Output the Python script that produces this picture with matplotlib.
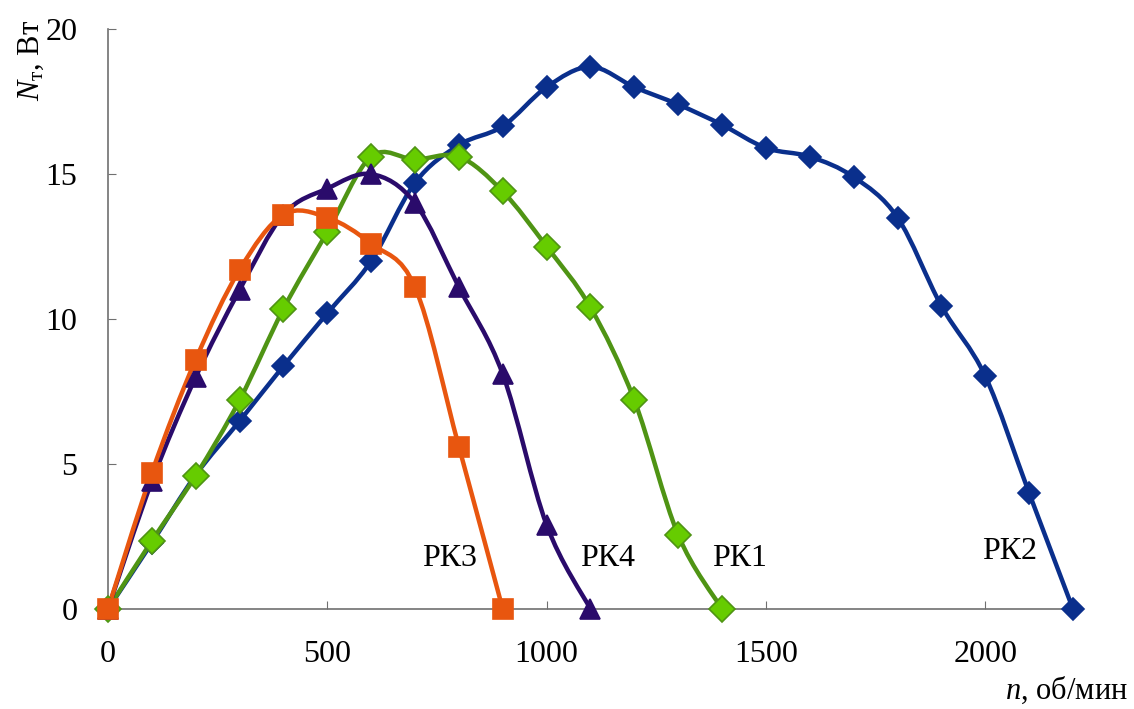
import numpy as np
import matplotlib
matplotlib.use("Agg")
import matplotlib.pyplot as plt
from matplotlib.path import Path
from matplotlib.patches import PathPatch

plt.rcParams['font.family'] = ['Liberation Serif', 'DejaVu Serif']
plt.rcParams['mathtext.fontset'] = 'custom'
plt.rcParams['mathtext.rm'] = 'Liberation Serif'
plt.rcParams['mathtext.it'] = 'Liberation Serif:italic'

# data: speed n (rpm) and power N (W)
n_rk2 = list(range(0, 2201, 100))
p_rk2 = [0, 2.28, 4.62, 6.48, 8.38, 10.2, 12.0, 14.7, 16.0, 16.65, 18.0, 18.7,
         18.0, 17.4, 16.7, 15.9, 15.6, 14.9, 13.5, 10.45, 8.03, 4.0, 0]

n_rk1 = list(range(0, 1401, 100))
p_rk1 = [0, 2.35, 4.6, 7.2, 10.35, 13.0, 15.6, 15.5, 15.6, 14.4, 12.5, 10.4,
         7.2, 2.55, 0]

n_rk4 = list(range(0, 1101, 100))
p_rk4 = [0, 4.4, 8.0, 11.0, 13.6, 14.5, 15.0, 14.0, 11.1, 8.1, 2.9, 0]

n_rk3 = list(range(0, 901, 100))
p_rk3 = [0, 4.7, 8.6, 11.7, 13.6, 13.5, 12.6, 11.1, 5.6, 0]


def smooth_path(xs, ys):
    # Excel-style smoothed line: cubic Bezier through every point
    pts = np.column_stack([xs, ys]).astype(float)
    verts = [pts[0]]
    codes = [Path.MOVETO]
    m = len(pts)
    for i in range(m - 1):
        p0 = pts[max(i - 1, 0)]
        p1 = pts[i]
        p2 = pts[i + 1]
        p3 = pts[min(i + 2, m - 1)]
        c1 = p1 + (p2 - p0) / 6.0
        c2 = p2 - (p3 - p1) / 6.0
        verts += [c1, c2, p2]
        codes += [Path.CURVE4] * 3
    return Path(verts, codes)


fig = plt.figure(figsize=(11.34, 7.09), dpi=100)
ax = fig.add_axes([0.0952, 0.141, 0.8510, 0.818])

series = [
    (n_rk2, p_rk2, '#0a2f8c', '#0a2f8c', 'D', 11),
    (n_rk1, p_rk1, '#4f9414', '#66cc00', 'D', 13),
    (n_rk4, p_rk4, '#2a0b6b', '#2a0b6b', '^', 14),
    (n_rk3, p_rk3, '#e8560f', '#e8560f', 's', 14),
]
for xs, ys, lc, fc, mk, ms in series:
    ax.add_patch(PathPatch(smooth_path(xs, ys), facecolor='none', edgecolor=lc,
                           lw=3.2, clip_on=False, zorder=2))
    ax.plot(xs, ys, linestyle='none', marker=mk, ms=ms, mfc=fc, mec=lc,
            mew=1.2, clip_on=False, zorder=3)

ax.set_xlim(0, 2200)
ax.set_ylim(0, 20)
ax.set_xticks([0, 500, 1000, 1500, 2000])
ax.set_yticks([0, 5, 10, 15, 20])
for s in ['top', 'right']:
    ax.spines[s].set_visible(False)
for s in ['left', 'bottom']:
    ax.spines[s].set_color('#707070')
    ax.spines[s].set_linewidth(1.2)
ax.tick_params(axis='both', direction='in', length=6, color='#707070',
               labelsize=23)
ax.tick_params(axis='x', pad=22)
ax.tick_params(axis='y', pad=22)

labels = [('РК3', 779, 1.75), ('РК4', 1139, 1.75), ('РК1', 1440, 1.75),
          ('РК2', 2055, 2.0)]
for txt, x, y in labels:
    ax.text(x, y, txt, fontsize=23, ha='center', va='center')

fig.text(0.028, 0.915, r'$N_{\mathrm{т}}$, Вт', rotation=90, fontsize=22,
         ha='center', va='center')
fig.text(0.995, 0.027, r'$n$, об/мин', fontsize=22, ha='right', va='center')

fig.savefig('out.png', dpi=100)
